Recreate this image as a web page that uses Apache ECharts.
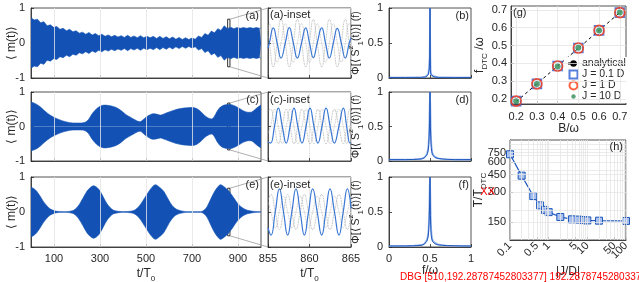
<!DOCTYPE html>
<html><head><meta charset="utf-8">
<script src="https://cdn.jsdelivr.net/npm/echarts@6/dist/echarts.min.js"></script>
<style>html,body{margin:0;padding:0;background:#fff}#c{width:639px;height:282px}</style>
</head><body><div id="c"></div>
<script>
// ---------------- DATA ----------------
const timeTicks = [100, 300, 500, 700, 900];
const envA_t = [0,14,28,42,56,70,84,98,112,126,140,154,168,182,196,210,224,238,252,266,280,294,308,322,336,350,364,378,392,406,420,434,448,462,476,490,504,518,532,546,560,574,588,602,616,630,644,658,672,686,700,714,728,742,756,770,784,798,812,826,840,854,868,882,896,910,924,938,952,966,980,994,1000];
const envA_v = [0.72,0.66,0.68,0.58,0.61,0.49,0.52,0.45,0.47,0.39,0.42,0.35,0.39,0.32,0.35,0.28,0.31,0.25,0.30,0.23,0.27,0.21,0.25,0.19,0.23,0.18,0.22,0.17,0.21,0.16,0.22,0.16,0.2,0.15,0.21,0.15,0.19,0.15,0.19,0.13,0.19,0.13,0.18,0.12,0.17,0.11,0.16,0.10,0.15,0.10,0.14,0.11,0.2,0.16,0.27,0.22,0.34,0.29,0.41,0.36,0.49,0.41,0.45,0.41,0.44,0.42,0.44,0.42,0.44,0.42,0.44,0.42,0.43];
const envC_t = [0,20,40,60,83,105,126,150,170,195,214,235,250,265,286,305,320,345,370,390,412,432,450,465,475,488,500,515,530,545,563,580,600,625,650,675,700,720,740,755,770,785,795,810,825,845,865,885,905,925,945,960,975,990,1000];
const envC_v = [0.71,0.66,0.57,0.45,0.33,0.25,0.19,0.14,0.11,0.10,0.10,0.12,0.20,0.36,0.52,0.60,0.62,0.60,0.55,0.47,0.35,0.27,0.20,0.15,0.14,0.20,0.27,0.33,0.37,0.36,0.33,0.37,0.42,0.48,0.52,0.54,0.55,0.52,0.42,0.32,0.25,0.22,0.27,0.45,0.57,0.63,0.64,0.60,0.53,0.45,0.41,0.42,0.50,0.58,0.62];
const envE_t = [0,12,25,40,54,70,83,100,112,135,156,175,185,200,214,228,243,258,272,287,301,315,330,345,359,380,403,430,446,460,475,490,504,520,541,560,577,592,606,620,635,655,679,710,737,752,766,780,795,810,824,840,861,880,897,915,930,941,965,1000];
const envE_v = [0.71,0.67,0.59,0.45,0.30,0.17,0.09,0.04,0.02,0.01,0.01,0.03,0.05,0.13,0.26,0.42,0.59,0.70,0.75,0.70,0.59,0.42,0.24,0.12,0.05,0.02,0.01,0.02,0.04,0.10,0.21,0.36,0.50,0.66,0.78,0.70,0.59,0.42,0.26,0.14,0.07,0.03,0.01,0.01,0.01,0.05,0.16,0.35,0.55,0.70,0.78,0.72,0.59,0.42,0.26,0.14,0.08,0.05,0.02,0.01];
const insetTicks = [855, 860, 865];
const insA_t = [855,855.16,855.64,856.1,856.57,857.08,857.57,858.05,858.54,859.04,859.54,860.0,860.46,860.93,861.47,861.93,862.39,862.87,863.35,863.83,864.31,864.79,865];
const insA_blue = [-0.15,0,0.43,0,-0.43,0,0.44,0,-0.43,0,0.43,0,-0.42,0,0.43,0,-0.43,0,0.42,0,-0.43,0,0.14];
const insA_grey1 = [0.25,0,-0.68,0,0.68,0,-0.68,0,0.68,0,-0.68,0,0.68,0,-0.68,0,0.68,0,-0.68,0,0.68,0,-0.22];
const insA_grey2 = [0.3,0.55,0,-0.55,0,0.55,0,-0.55,0,0.55,0,-0.55,0,0.55,0,-0.55,0,0.55,0,-0.55,0,0.55,0.5];
const insC_t = [855,855.3,855.78,856.25,856.72,857.2,857.66,858.13,858.6,859.1,859.58,860.06,860.54,861.02,861.5,861.99,862.49,862.99,863.54,864.08,864.48,864.88,865];
const insC_blue = [-0.45,-0.48,0,0.53,0,-0.48,0,0.53,0,-0.48,0,0.53,0,-0.48,0,0.53,0,-0.48,0,0.53,0,-0.48,-0.46];
const insC_grey1 = [0.45,0.5,0,-0.5,0,0.5,0,-0.5,0,0.5,0,-0.5,0,0.5,0,-0.5,0,0.5,0,-0.5,0,0.5,0.48];
const insC_grey2 = [-0.2,0,0.5,0,-0.5,0,0.5,0,-0.5,0,0.5,0,-0.5,0,0.5,0,-0.5,0,0.5,0,-0.5,0,0.1];
const insE_t = [855,855.36,855.87,856.37,856.87,857.37,857.87,858.37,858.88,859.38,859.88,860.38,860.93,861.47,861.97,862.47,863.01,863.55,864.06,864.56,865];
const insE_blue = [-0.45,-0.66,0,0.66,0,-0.66,0,0.66,0,-0.66,0,0.66,0,-0.66,0,0.66,0,-0.66,0,0.66,0.1];
const insE_grey1 = [0.35,0.5,0,-0.5,0,0.5,0,-0.5,0,0.5,0,-0.5,0,0.5,0,-0.5,0,0.5,0,-0.5,-0.08];
const insE_grey2 = [0.3,0,-0.45,0,0.45,0,-0.45,0,0.45,0,-0.45,0,0.45,0,-0.45,0,0.45,0,-0.45,0,0.4];
const specB_f = [0,0.2,0.4,0.45,0.47,0.48,0.49,0.495,0.5,0.505,0.51,0.52,0.53,0.55,0.6,0.8,1];
const specB_v = [0.008,0.008,0.01,0.015,0.03,0.05,0.06,0.15,1,0.12,0.05,0.04,0.025,0.015,0.01,0.008,0.008];
const specB_light = [0.008,0.008,0.01,0.02,0.04,0.06,0.08,0.3,1,0.3,0.07,0.05,0.03,0.02,0.01,0.008,0.008];
const specDF_f = [0,0.1,0.2,0.3,0.35,0.4,0.43,0.45,0.46,0.47,0.48,0.485,0.49,0.495,0.5,0.505,0.51,0.515,0.52,0.53,0.54,0.56,0.6,0.65,0.7,0.8,0.9,1];
const specD_v = [0.02,0.02,0.02,0.022,0.025,0.03,0.045,0.06,0.08,0.11,0.17,0.24,0.36,0.55,1,0.5,0.3,0.2,0.14,0.09,0.07,0.05,0.035,0.03,0.025,0.02,0.02,0.02];
const specD_light = [0.02,0.02,0.02,0.025,0.03,0.035,0.05,0.07,0.1,0.14,0.22,0.32,0.5,0.8,1,0.8,0.45,0.3,0.2,0.12,0.09,0.06,0.04,0.03,0.025,0.02,0.02,0.02];
const specF_v = [0.015,0.015,0.015,0.018,0.02,0.025,0.04,0.06,0.08,0.11,0.17,0.26,0.38,0.6,1,0.45,0.25,0.17,0.12,0.08,0.06,0.045,0.03,0.025,0.02,0.018,0.015,0.015];
const specF_light = [0.015,0.015,0.015,0.02,0.025,0.03,0.045,0.07,0.1,0.14,0.22,0.34,0.52,0.85,1,0.75,0.4,0.26,0.18,0.11,0.08,0.055,0.035,0.028,0.022,0.018,0.015,0.015];
const gTicks = [0.2, 0.3, 0.4, 0.5, 0.6, 0.7];
const gB = [0.2, 0.3, 0.4, 0.5, 0.6, 0.7];
const gAnalytical = [0.185, 0.285, 0.385, 0.485, 0.585, 0.685];
const gJ01 = [0.188, 0.285, 0.385, 0.486, 0.585, 0.685];
const gJ1 = [0.188, 0.285, 0.385, 0.486, 0.585, 0.685];
const gJ10 = [0.188, 0.284, 0.383, 0.488, 0.584, 0.686];
const hJD = [0.1, 0.2, 0.4, 0.6, 0.8, 1, 2, 4, 6, 8, 10, 20, 100];
const hT = [720, 440, 275, 222, 200, 190, 170, 161, 160, 158, 157, 156, 155];
const hXTicksA = [0.1, 0.5, 1, 5, 10, 100];
const hXTicksB = [50];
const hYTicksA = [150, 450, 750];
const hYTicksB = [600];
const hYTicksC = [300];
const hGridX = [0.1,0.2,0.3,0.4,0.5,0.6,0.7,0.8,0.9,1,2,3,4,5,6,7,8,9,10,20,30,40,50,60,70,80,90,100];
const hGridY = [200,300,400,500,600,700,800,900,150,450,750];

const FONT = '"Liberation Sans", Arial, sans-serif';
const TXT = '#262626';
const FILL = '#1352b4';
const INSET_BLUE = '#3a78d4';
const SPEC = '#1f58bd';
const GRIDC = '#e4e4e4';
const rich = {
  sub: {fontSize: 8, fontFamily: FONT, color: TXT, verticalAlign: 'bottom', lineHeight: 18},
  sup: {fontSize: 8, fontFamily: FONT, color: TXT, verticalAlign: 'top', lineHeight: 18}
};
function merge(a, b) {
  const r = Object.assign({}, a);
  for (const k in b) {
    const v = b[k];
    if (v && typeof v === 'object' && !Array.isArray(v) && r[k] && typeof r[k] === 'object' && !Array.isArray(r[k])) r[k] = merge(r[k], v);
    else r[k] = v;
  }
  return r;
}
const zip = (a, b) => a.map((x, i) => [x, b[i]]);
const G = [
  [31, 8, 230, 70], [31, 92, 230, 69], [31, 177, 230, 70],
  [268, 8, 83, 70], [268, 92, 83, 69], [268, 177, 83, 70],
  [389, 8, 82, 70], [389, 92, 82, 69], [389, 177, 82, 70],
  [511, 6, 115, 98], [510, 140, 116, 100]
];
const grids = G.map(g => ({left: g[0], top: g[1], width: g[2], height: g[3], show: true,
  borderColor: TXT, borderWidth: 0.8, backgroundColor: 'rgba(0,0,0,0)', outerBoundsMode: 'none', containLabel: false}));

const axBase = {
  type: 'value',
  axisLine: {show: true, onZero: false, lineStyle: {color: TXT, width: 0.8}},
  axisTick: {show: true, inside: true, length: 3, lineStyle: {color: TXT, width: 0.8}},
  splitLine: {show: false},
  axisLabel: {show: true, fontFamily: FONT, fontSize: 11, color: TXT, margin: 5, hideOverlap: false, showMinLabel: true, showMaxLabel: true},
  nameLocation: 'middle',
  nameMoveOverlap: false,
  nameTextStyle: {fontFamily: FONT, fontSize: 12, color: TXT, rich: rich}
};
const X = (gi, o) => merge(merge(axBase, {gridIndex: gi}), o || {});
const Y = (gi, o) => merge(merge(axBase, {gridIndex: gi, nameRotate: 90}), o || {});

const xAxes = [], yAxes = [];
for (let i = 0; i < 3; i++) {
  xAxes.push(X(i, {min: 0, max: 1000, axisLabel: {show: i === 2, customValues: timeTicks, margin: 6},
    axisTick: {customValues: timeTicks}, name: i === 2 ? 't/T{sub|0}' : '', nameGap: 18}));
  yAxes.push(Y(i, {min: -1, max: 1, interval: 1, name: '⟨ m(t)⟩', nameGap: 13, axisLabel: {margin: 6}}));
}
for (let i = 3; i < 6; i++) {
  xAxes.push(X(i, {min: 855, max: 865, interval: 5, axisLabel: {show: i === 5, margin: 6},
    splitLine: {show: true, lineStyle: {color: GRIDC, width: 0.8}},
    name: i === 5 ? 't/T{sub|0}' : '', nameGap: 18}));
  yAxes.push(Y(i, {min: -1, max: 1, interval: 1, axisLabel: {show: false},
    splitLine: {show: true, lineStyle: {color: GRIDC, width: 0.8}}}));
}
for (let i = 6; i < 9; i++) {
  xAxes.push(X(i, {min: 0, max: 1, interval: 0.5, axisLabel: {show: i === 8, margin: 6},
    name: i === 8 ? 'f/ω' : '', nameGap: 18}));
  yAxes.push(Y(i, {min: 0, max: 1, interval: 0.5, axisLabel: {margin: 6},
    name: 'Φ[⟨ S{sup|z}{sub|1}(t)⟩] (f)', nameGap: 24, nameTextStyle: {fontSize: 10.5}}));
}
xAxes.push(X(9, {min: 0.175, max: 0.73, axisLabel: {customValues: gTicks, margin: 7, formatter: v => (+v).toFixed(1)},
  axisTick: {customValues: gTicks}, name: 'B/ω', nameGap: 19}));
yAxes.push(Y(9, {min: 0.172, max: 0.722, axisLabel: {customValues: gTicks, margin: 4, formatter: v => (+v).toFixed(1)},
  axisTick: {customValues: gTicks}, name: 'f{sub|DTC} /ω', nameGap: 22}));
const hxFmt = v => String(+(+v).toPrecision(3));
const hyFmt = v => String(Math.round(+v));
xAxes.push(X(10, {type: 'log', logBase: 10, min: 0.1, max: 100,
  axisLabel: {customValues: hXTicksA, rotate: 45, margin: 4, formatter: hxFmt},
  axisTick: {customValues: hXTicksA.concat(hXTicksB)}, minorTick: {show: false}, name: '|J/D|', nameGap: 26}));
yAxes.push(Y(10, {type: 'log', logBase: 10, min: 100, max: 1000,
  axisLabel: {customValues: hYTicksA, margin: 4, formatter: hyFmt},
  axisTick: {customValues: hYTicksA.concat(hYTicksB, hYTicksC)}}));
xAxes.push(X(10, {type: 'log', logBase: 10, min: 0.1, max: 100, position: 'bottom',
  axisLine: {show: false}, axisTick: {show: false},
  axisLabel: {customValues: hXTicksB, rotate: 45, margin: 4, formatter: hxFmt}}));
yAxes.push(Y(10, {type: 'log', logBase: 10, min: 100, max: 1000, position: 'left',
  axisLine: {show: false}, axisTick: {show: false},
  axisLabel: {customValues: hYTicksB, margin: 4, formatter: hyFmt}}));

function gridLines(i, xs, ys, color) {
  return {type: 'line', xAxisIndex: i, yAxisIndex: i, data: [], silent: true, z: 1, symbol: 'none',
    markLine: {silent: true, symbol: ['none', 'none'], label: {show: false}, animation: false,
      lineStyle: {color: color || GRIDC, width: 0.8, type: 'solid'},
      emphasis: {disabled: true},
      data: xs.map(v => ({xAxis: v})).concat(ys.map(v => ({yAxis: v})))}};
}

const series = [];
const boxY = 0.68;
const env = [[envA_t, envA_v, false], [envC_t, envC_v, 0.3], [envE_t, envE_v, 0.3]];
env.forEach((e, i) => {
  series.push(gridLines(i, timeTicks, []));
  const common = {type: 'line', xAxisIndex: i, yAxisIndex: i, symbol: 'none', smooth: e[2], z: 3,
    lineStyle: {color: FILL, width: 0.6}, areaStyle: {color: FILL, opacity: 1}, silent: true};
  series.push(merge(common, {data: zip(e[0], e[1]),
    markArea: {silent: true, itemStyle: {color: 'rgba(0,0,0,0)', borderColor: '#1a1a1a', borderWidth: 0.9},
      data: [[{coord: [insetTicks[0], -boxY]}, {coord: [insetTicks[2], boxY]}]]}}));
  series.push(merge(common, {data: zip(e[0], e[1].map(v => -v))}));
});
const ins = [[insA_t, insA_blue, insA_grey1, insA_grey2], [insC_t, insC_blue, insC_grey1, insC_grey2], [insE_t, insE_blue, insE_grey1, insE_grey2]];
ins.forEach((d, k) => {
  const i = k + 3;
  const c = {type: 'line', xAxisIndex: i, yAxisIndex: i, symbol: 'none', smooth: 0.5, silent: true};
  series.push(merge(c, {data: zip(d[0], d[2]), lineStyle: {color: '#a0a0a0', width: 0.8, type: 'dotted'}, z: 2}));
  series.push(merge(c, {data: zip(d[0], d[3]), lineStyle: {color: '#b4b4b4', width: 0.8, type: 'dotted'}, z: 2}));
  series.push(merge(c, {data: zip(d[0], d[1]), lineStyle: {color: INSET_BLUE, width: 1.2}, z: 3}));
});
const specs = [[specB_f, specB_v, specB_light], [specDF_f, specD_v, specD_light], [specDF_f, specF_v, specF_light]];
specs.forEach((d, k) => {
  const i = k + 6;
  const c = {type: 'line', xAxisIndex: i, yAxisIndex: i, symbol: 'none', silent: true};
  series.push(merge(c, {data: zip(d[0], d[2]), lineStyle: {color: '#93b3ea', width: 1.6}, z: 2}));
  series.push(merge(c, {data: zip(d[0], d[1]), lineStyle: {color: SPEC, width: 1}, z: 3}));
});
series.push(gridLines(9, gTicks, gTicks));
series.push({name: 'analytical', type: 'line', xAxisIndex: 9, yAxisIndex: 9, data: zip(gB, gAnalytical), symbol: 'none',
  lineStyle: {color: '#000', width: 1, type: [3, 3]}, itemStyle: {color: '#000'}, z: 3, silent: true});
series.push({name: 'J = 0.1 D', type: 'scatter', xAxisIndex: 9, yAxisIndex: 9, data: zip(gB, gJ01), symbol: 'rect', symbolSize: 9,
  itemStyle: {color: 'rgba(255,255,255,0)', borderColor: '#2a5bd7', borderWidth: 1.6}, z: 4, silent: true});
series.push({name: 'J = 1 D', type: 'scatter', xAxisIndex: 9, yAxisIndex: 9, data: zip(gB, gJ1), symbol: 'circle', symbolSize: 10,
  itemStyle: {color: 'rgba(255,255,255,0)', borderColor: '#ff3b10', borderWidth: 1.6}, z: 5, silent: true});
series.push({name: 'J = 10 D', type: 'scatter', xAxisIndex: 9, yAxisIndex: 9, data: zip(gB, gJ10), symbol: 'circle', symbolSize: 6,
  itemStyle: {color: '#2e8b57'}, z: 6, silent: true});
series.push(gridLines(10, hGridX, hGridY, '#e6e6e6'));
series.push({type: 'line', xAxisIndex: 10, yAxisIndex: 10, data: zip(hJD, hT), symbol: 'rect', symbolSize: 7, showAllSymbol: true,
  lineStyle: {color: SPEC, width: 1.2}, itemStyle: {color: '#a9c1ee', borderColor: SPEC, borderWidth: 1}, z: 3, silent: true});

const option = {
  animation: false,
  grid: grids, xAxis: xAxes, yAxis: yAxes, series: series,
  legend: {left: 565, top: 57, orient: 'vertical', itemGap: 0, itemWidth: 11, itemHeight: 8, symbolKeepAspect: true,
    padding: [1, 2, 1, 2], backgroundColor: '#fff', selectedMode: false,
    textStyle: {fontFamily: FONT, fontSize: 10.5, color: TXT, lineHeight: 9, padding: [0, 0, 0, -2]},
    data: [
      {name: 'analytical'},
      {name: 'J = 0.1 D', icon: 'path://M0,0H10V10H0Z'},
      {name: 'J = 1 D', icon: 'path://M5,0.5A4.5,4.5 0 1,1 4.99,0.5Z'},
      {name: 'J = 10 D', icon: 'path://M0,0L0,0.01M10,10L10,10.01M5,2.2A2.8,2.8 0 1,1 4.99,2.2Z'}
    ]}
};
const chart = echarts.init(document.getElementById('c'), null, {renderer: 'canvas'});
chart.setOption(option);

const tstyle = {fontFamily: FONT, fontSize: 11, fill: TXT};
const g = [];
function lab(text, x, y, align) { g.push({type: 'text', x: x, y: y, style: Object.assign({text: text, textAlign: align || 'left', textVerticalAlign: 'middle'}, tstyle), z: 50}); }
lab('(a)', 259, 16, 'right'); lab('(c)', 259, 100, 'right'); lab('(e)', 259, 185, 'right');
lab('(a)-inset', 270, 15); lab('(c)-inset', 270, 100); lab('(e)-inset', 270, 185);
lab('(b)', 469, 16, 'right'); lab('(d)', 469, 100, 'right'); lab('(f)', 469, 185, 'right');
lab('(g)', 513, 13); lab('(h)', 623, 147, 'right');
// DEBUG: where does 300 map?
const pdbg = chart.convertToPixel({gridIndex: 10}, [hXTicksA[0], 300]);
const pdbg2 = chart.convertToPixel({yAxisIndex: 10}, 300);
g.push({type: 'text', x: 400, y: 272, z: 99, style: {text: 'DBG ' + JSON.stringify(pdbg) + ' ' + JSON.stringify(pdbg2), fill: 'red', fontSize: 10}});
g.push({type: 'text', x: 495, y: 192, z: 99, style: {text: 'XX', fill: 'red', fontSize: 11, textAlign: 'right', textVerticalAlign: 'middle'}});
hYTicksC.forEach(v => {
  const p = chart.convertToPixel({gridIndex: 10}, [hXTicksA[0], v]);
  g.push({type: 'text', x: p[0] - 4, y: p[1], z: 60, silent: true,
    style: Object.assign({text: hyFmt(v), textAlign: 'right', textVerticalAlign: 'middle'}, tstyle)});
});
const hMid = chart.convertToPixel({gridIndex: 10}, [hXTicksA[0], 316]);
g.push({type: 'text', x: hMid[0] - 31, y: hMid[1], rotation: Math.PI / 2, z: 50,
  style: {text: 'T/T{sub|DTC}', rich: rich, fontFamily: FONT, fontSize: 12, fill: TXT, textAlign: 'center', textVerticalAlign: 'middle'}});
[[0, 3], [1, 4], [2, 5]].forEach(([a, b]) => {
  const p1 = chart.convertToPixel({gridIndex: a}, [insetTicks[2], boxY]);
  const p2 = chart.convertToPixel({gridIndex: b}, [insetTicks[0], 1]);
  const q1 = chart.convertToPixel({gridIndex: a}, [insetTicks[2], -boxY]);
  const q2 = chart.convertToPixel({gridIndex: b}, [insetTicks[0], -1]);
  [[p1, p2], [q1, q2]].forEach(([s, e]) => g.push({type: 'line', shape: {x1: s[0], y1: s[1], x2: e[0], y2: e[1]},
    style: {stroke: '#9a9a9a', lineWidth: 0.8}, z: 40, silent: true}));
});
chart.setOption({graphic: g});
</script></body></html>
